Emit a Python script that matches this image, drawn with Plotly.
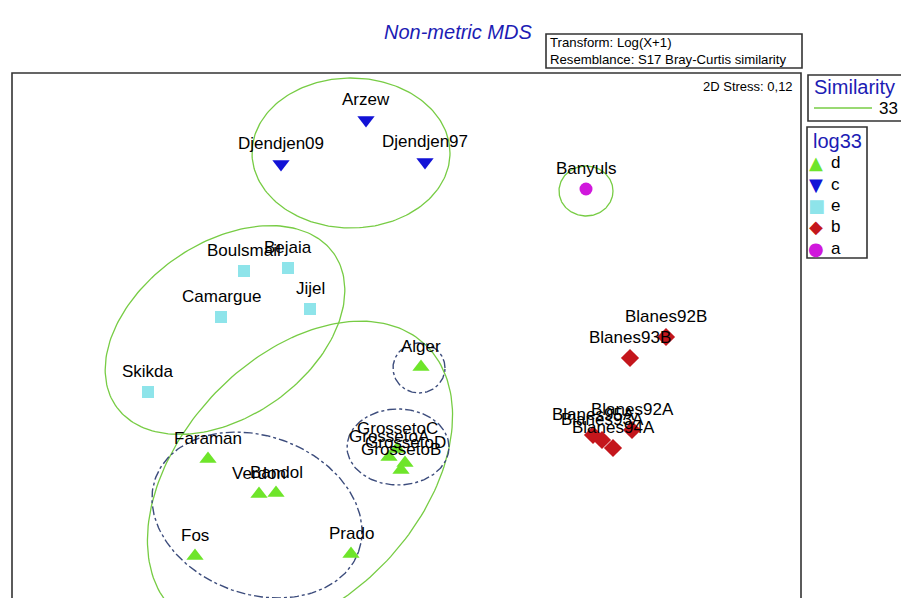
import numpy as np
import plotly.graph_objects as go

# MDS configuration (screen units of the original ordination plot)
sites = ['Arzew', 'Djendjen09', 'Djendjen97', 'Banyuls',
         'Boulsmail', 'Bejaia', 'Camargue', 'Jijel', 'Skikda',
         'Alger', 'GrossetoC', 'GrossetoA', 'GrossetoD', 'GrossetoB',
         'Faraman', 'Verdon', 'Bandol', 'Fos', 'Prado',
         'Blanes92B', 'Blanes93B', 'Blanes92A', 'Blanes95A', 'Blanes93A', 'Blanes94A']
groups = ['c', 'c', 'c', 'a',
          'e', 'e', 'e', 'e', 'e',
          'd', 'd', 'd', 'd', 'd',
          'd', 'd', 'd', 'd', 'd',
          'b', 'b', 'b', 'b', 'b', 'b']
mds_x = [366, 281, 425, 586,
         244, 288, 221, 310, 148,
         421, 397, 389, 405, 401,
         208, 259, 276, 195, 351,
         666, 630, 632, 593, 602, 613]
mds_y = [120, 164, 162, 189,
         271, 268, 317, 309, 392,
         367, 449, 457, 463, 470,
         459, 494, 493, 556, 554,
         337, 358, 430, 435, 440, 448]

legend_groups = ['d', 'c', 'e', 'b', 'a']
group_symbol = {'d': 'triangle-up', 'c': 'triangle-down', 'e': 'square', 'b': 'diamond', 'a': 'circle'}
group_glyph = {'d': '▲', 'c': '▼', 'e': '■', 'b': '◆', 'a': '●'}
group_color = {'d': '#6ee52a', 'c': '#1212d6', 'e': '#8ee4ea', 'b': '#c4161c', 'a': '#d018dc'}
group_size = {'d': 15, 'c': 15, 'e': 12, 'b': 14, 'a': 13}

# similarity contours: centre x, centre y, semi-axes, tilt (deg)
sim33_ell = [(351, 153, 99, 75, 0), (586, 191, 27, 25, 0),
             (225, 330, 133, 87, 35), (300, 478, 183, 120, 47)]
sim_low_ell = [(419, 368, 26, 25, 0), (398, 447, 51, 38, 0),
               (257, 515, 108, 79, -20)]

W, H = 901, 598
L, R, T, B = 12, 801, 73, 598


def px(x):
    return (x - L) / (R - L)


def py(y):
    return (B - y) / (B - T)


def ellipse(cx, cy, a, b, ang):
    t = np.linspace(0, 2 * np.pi, 200)
    th = np.radians(ang)
    x = cx + a * np.cos(t) * np.cos(th) - b * np.sin(t) * np.sin(th)
    y = cy - (a * np.cos(t) * np.sin(th) + b * np.sin(t) * np.cos(th))
    return x, y


fig = go.Figure()

for e in sim33_ell:
    ex, ey = ellipse(*e)
    fig.add_trace(go.Scatter(x=ex, y=ey, mode='lines', hoverinfo='skip',
                             line=dict(color='#77cc44', width=1.3)))
for e in sim_low_ell:
    ex, ey = ellipse(*e)
    fig.add_trace(go.Scatter(x=ex, y=ey, mode='lines', hoverinfo='skip',
                             line=dict(color='#3c4c7c', width=1.4, dash='dashdot')))

for g in legend_groups:
    idx = [i for i, gg in enumerate(groups) if gg == g]
    fig.add_trace(go.Scatter(
        x=[mds_x[i] for i in idx], y=[mds_y[i] for i in idx], mode='markers',
        marker=dict(symbol=group_symbol[g], size=group_size[g], color=group_color[g],
                    line=dict(width=0))))

font = 'Liberation Sans, Arial, sans-serif'
ann = []
for s, x, y in zip(sites, mds_x, mds_y):
    ann.append(dict(x=x, y=y, text=s, showarrow=False, yshift=21, xanchor='center',
                    yanchor='middle', font=dict(family=font, size=17, color='black')))

ann.append(dict(xref='paper', yref='paper', x=px(458), y=py(19), text='<i>Non-metric MDS</i>',
                showarrow=False, font=dict(family=font, size=20, color='#1c1cb4')))
ann.append(dict(xref='paper', yref='paper', x=px(548), y=py(51),
                text='Transform: Log(X+1)<br>Resemblance: S17 Bray-Curtis similarity',
                showarrow=False, xanchor='left', yanchor='middle', align='left',
                font=dict(family=font, size=13.2, color='black')))
ann.append(dict(xref='paper', yref='paper', x=px(795), y=py(86), text='2D Stress: 0,12',
                showarrow=False, xanchor='right', yanchor='middle',
                font=dict(family=font, size=13, color='black')))
ann.append(dict(xref='paper', yref='paper', x=px(812), y=py(87), text='Similarity',
                showarrow=False, xanchor='left', yanchor='middle',
                font=dict(family=font, size=20, color='#1c1cb4')))
ann.append(dict(xref='paper', yref='paper', x=px(900), y=py(108), text='33',
                showarrow=False, xanchor='right', yanchor='middle',
                font=dict(family=font, size=17, color='black')))
ann.append(dict(xref='paper', yref='paper', x=px(811), y=py(141), text='log33',
                showarrow=False, xanchor='left', yanchor='middle',
                font=dict(family=font, size=20, color='#1c1cb4')))
for k, g in enumerate(legend_groups):
    yy = 163 + k * 21.3
    ann.append(dict(xref='paper', yref='paper', x=px(816), y=py(yy), text=group_glyph[g],
                    showarrow=False, xanchor='center', yanchor='middle',
                    font=dict(family='DejaVu Sans', size=18, color=group_color[g])))
    ann.append(dict(xref='paper', yref='paper', x=px(829), y=py(yy), text=g,
                    showarrow=False, xanchor='left', yanchor='middle',
                    font=dict(family=font, size=17, color='black')))

frame = dict(color='#333333', width=1.6)
shapes = [
    dict(type='rect', xref='paper', yref='paper', x0=0, x1=1, y0=-0.05, y1=1, line=frame),
    dict(type='rect', xref='paper', yref='paper', x0=px(546), x1=px(802), y0=py(68), y1=py(34),
         line=frame),
    dict(type='rect', xref='paper', yref='paper', x0=px(808), x1=px(910), y0=py(121), y1=py(75),
         line=frame),
    dict(type='rect', xref='paper', yref='paper', x0=px(807), x1=px(867), y0=py(258), y1=py(127),
         line=frame),
    dict(type='line', xref='paper', yref='paper', x0=px(814), x1=px(872), y0=py(108), y1=py(108),
         line=dict(color='#77cc44', width=1.3)),
]

fig.update_layout(
    width=W, height=H,
    margin=dict(l=L, r=W - R, t=T, b=H - B),
    paper_bgcolor='white', plot_bgcolor='white',
    showlegend=False,
    annotations=ann, shapes=shapes,
    xaxis=dict(range=[L, R], visible=False, fixedrange=True),
    yaxis=dict(range=[B, T], visible=False, fixedrange=True),
)

# drop the default page margin so the figure fills the window exactly
fig.write_html("out.html", config={'displayModeBar': False},
               post_script="document.body.style.margin='0';document.body.style.overflow='hidden';")
